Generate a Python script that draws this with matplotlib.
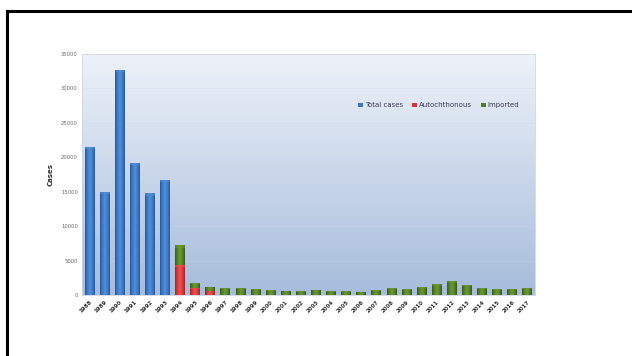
import matplotlib
matplotlib.use("Agg")
import matplotlib.pyplot as plt
import numpy as np
from matplotlib.lines import Line2D
from matplotlib.colors import LinearSegmentedColormap

years = [str(y) for y in range(1988, 2018)]
total_cases = [21500, 15000, 32700, 19200, 14800, 16700] + [0] * 24
autochthonous = [0] * 6 + [4350, 1050, 600] + [0] * 21
imported = [0] * 6 + [2850, 650, 580,
                      1000, 1050, 880, 680, 630, 590, 780, 590, 590, 440,
                      730, 980, 930, 1220, 1560, 2050, 1460, 1020, 830, 830, 1070]
y_ticks = [0, 5000, 10000, 15000, 20000, 25000, 30000, 35000]

fig = plt.figure(figsize=(6.32, 3.56), dpi=100)
fig.patch.set_facecolor("white")

# frame lines (top and left)
fig.add_artist(Line2D([7 / 632, 1], [1 - 11 / 356, 1 - 11 / 356], color="black", lw=2.2,
                      transform=fig.transFigure))
fig.add_artist(Line2D([7 / 632, 7 / 632], [0, 1 - 11 / 356], color="black", lw=2.2,
                      transform=fig.transFigure))

ax = fig.add_axes([82 / 632, 1 - 295 / 356, (535 - 82) / 632, (295 - 54) / 356])
x = np.arange(len(years))
ax.set_xlim(-0.5, len(years) - 0.5)
ax.set_ylim(0, 35000)

# gradient background
grad = np.linspace(0, 1, 256).reshape(-1, 1)
bg_cmap = LinearSegmentedColormap.from_list("bg", ["#a6bcdb", "#eef2f9"])
ax.imshow(grad, aspect="auto", cmap=bg_cmap, origin="lower",
          extent=[-0.5, len(years) - 0.5, 0, 35000], zorder=0)
for t in y_ticks[1:-1]:
    ax.axhline(t, color="#c9d5e6", lw=0.4, alpha=0.6, zorder=1)

w = 0.66
b1 = ax.bar(x, total_cases, width=w, color="#3a76c4", zorder=2, label="Total cases")
b2 = ax.bar(x, autochthonous, width=w, color="#d93434", zorder=2, label="Autochthonous")
b3 = ax.bar(x, imported, width=w, bottom=autochthonous, color="#4f7a22", zorder=2,
            label="Imported")

hgrad = np.concatenate([np.linspace(0, 1, 64), np.linspace(1, 0, 64)]).reshape(1, -1)
schemes = [(b1, ["#1f4f96", "#4f8fdc"]), (b2, ["#a01818", "#f05050"]),
           (b3, ["#2f4f10", "#6a9a33"])]
for bars, cols in schemes:
    cm = LinearSegmentedColormap.from_list("c", cols)
    for p in bars:
        h = p.get_height()
        if h <= 0:
            continue
        x0 = p.get_x()
        y0 = p.get_y()
        im = ax.imshow(hgrad ** 0.6, aspect="auto", cmap=cm,
                       extent=[x0, x0 + p.get_width(), y0, y0 + h], zorder=2.5)
        im.set_clip_path(p)
        cap = min(350, h * 0.15)
        ax.bar(x0 + p.get_width() / 2, cap, width=p.get_width(), bottom=y0 + h - cap,
               color=cols[1], alpha=0.55, zorder=2.6, linewidth=0)

for s in ax.spines.values():
    s.set_color("#d0d6de")
    s.set_linewidth(0.6)

ax.set_yticks(y_ticks)
ax.set_yticklabels([str(t) for t in y_ticks], fontsize=3.8, color="#6a6a6a")
ax.set_xticks(x)
ax.set_xticklabels(years, rotation=45, ha="right", rotation_mode="anchor", fontsize=4,
                   fontweight="bold", color="#303030")
ax.tick_params(axis="both", length=0, pad=3)
ax.set_ylabel("Cases", fontsize=5, fontweight="bold", color="#303030", labelpad=5)

leg = ax.legend(handles=[b1, b2, b3], loc="upper left", bbox_to_anchor=(0.595, 0.825),
                ncol=3, frameon=False, fontsize=5, handlelength=0.7, handleheight=0.7,
                handletextpad=0.3, columnspacing=1.3, labelcolor="#3a3a55")

fig.savefig("out.png", dpi=100)
